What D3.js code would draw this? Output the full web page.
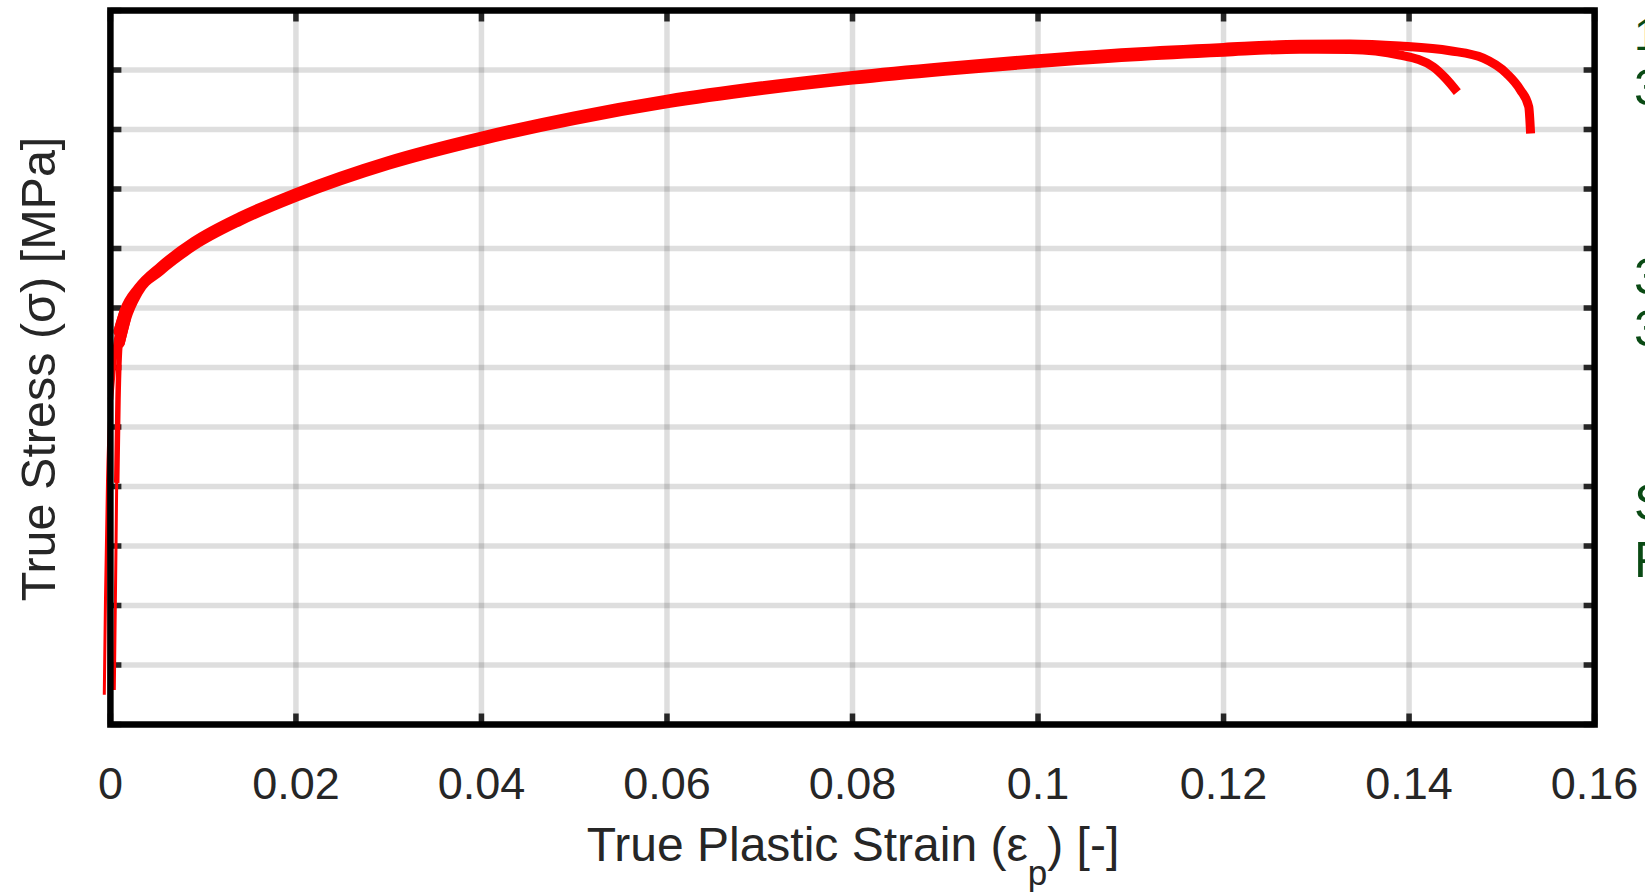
<!DOCTYPE html>
<html>
<head>
<meta charset="utf-8">
<script src="https://cdn.jsdelivr.net/npm/d3@7"></script>
<style>
  html, body { margin: 0; padding: 0; background: #ffffff; }
  svg { display: block; }
  text { font-family: "Liberation Sans", Arial, sans-serif; }
</style>
</head>
<body>
<svg id="chart" width="1645" height="894"></svg>
<script>
// Axis ticks
const xTicks = [0, 0.02, 0.04, 0.06, 0.08, 0.1, 0.12, 0.14, 0.16];
const xTickLabels = ["0", "0.02", "0.04", "0.06", "0.08", "0.1", "0.12", "0.14", "0.16"];
const yTicks = [0, 50, 100, 150, 200, 250, 300, 350, 400, 450, 500, 550, 600];

// Specimen A: true plastic strain [-] and true stress [MPa]
const strainA = [-0.00066, -0.00053, -0.00031, 0.00001, 0.00039, 0.00080, 0.00150, 0.00300, 0.00540,
  0.0090, 0.0140, 0.02, 0.03, 0.04, 0.05, 0.06, 0.07, 0.08, 0.09, 0.10,
  0.11, 0.12, 0.1282, 0.1336, 0.1390, 0.1444, 0.1480, 0.1505, 0.1520, 0.1529, 0.1531];
const stressA = [25, 105, 205, 273, 306, 330, 348, 367, 385,
  406, 427, 447, 474, 494.5, 511.5, 525.5, 536.5, 545.5, 553, 559.5,
  565, 569, 571.6, 571.8, 570.1, 566.2, 560.0, 547.2, 533.2, 519.1, 496.6];

// Specimen B
const strainB = [0.00042, 0.00060, 0.00068, 0.00082, 0.00105, 0.00170, 0.00300, 0.00540,
  0.0090, 0.0140, 0.02, 0.03, 0.04, 0.05, 0.06, 0.07, 0.08, 0.09, 0.10,
  0.11, 0.12, 0.1282, 0.1336, 0.1390, 0.1426, 0.1439, 0.1452];
const stressB = [29, 147, 203, 273, 320, 340, 363, 381,
  402, 423, 443, 470, 490.5, 507.5, 521.5, 532.5, 541.5, 549, 555.5,
  561, 565, 567.5, 567.2, 562.6, 552.6, 543.3, 531.4];

// Side annotation lines
const noteLines = ["1", "3", "3", "3", "S", "F"];
const noteBaselines = [50, 105, 294, 346, 520, 577];
const noteSizes = [44, 50, 50, 50, 50, 50];

const svg = d3.select("#chart");
const plot = { left: 110.4, right: 1594.6, top: 10.5, bottom: 724.5 };

const x = d3.scaleLinear().domain([0, 0.16]).range([plot.left, plot.right]);
const y = d3.scaleLinear().domain([0, 600]).range([plot.bottom, plot.top]);

svg.append("rect").attr("width", 1645).attr("height", 894).attr("fill", "#ffffff");

// Grid
const grid = svg.append("g").attr("stroke", "rgba(0,0,0,0.13)").attr("stroke-width", 5.5);
grid.selectAll("line.gx").data(xTicks.slice(1, -1)).join("line")
  .attr("x1", d => x(d)).attr("x2", d => x(d))
  .attr("y1", plot.top).attr("y2", plot.bottom);
grid.selectAll("line.gy").data(yTicks.slice(1, -1)).join("line")
  .attr("y1", d => y(d)).attr("y2", d => y(d))
  .attr("x1", plot.left).attr("x2", plot.right);

// Inward tick marks on all four sides
const tickLen = 11;
const ticks = svg.append("g").attr("stroke", "#262626").attr("stroke-width", 5.5);
ticks.selectAll("line.tl").data(yTicks).join("line")
  .attr("x1", plot.left).attr("x2", plot.left + tickLen)
  .attr("y1", d => y(d)).attr("y2", d => y(d));
ticks.selectAll("line.tr").data(yTicks).join("line")
  .attr("x1", plot.right - tickLen).attr("x2", plot.right)
  .attr("y1", d => y(d)).attr("y2", d => y(d));
ticks.selectAll("line.tb").data(xTicks).join("line")
  .attr("x1", d => x(d)).attr("x2", d => x(d))
  .attr("y1", plot.bottom - tickLen).attr("y2", plot.bottom);
ticks.selectAll("line.tt").data(xTicks).join("line")
  .attr("x1", d => x(d)).attr("x2", d => x(d))
  .attr("y1", plot.top).attr("y2", plot.top + tickLen);

// Stress-strain curves: thin elastic rise widening into the thick plastic branch
const line = d3.line().x(d => x(d[0])).y(d => y(d[1])).curve(d3.curveMonotoneX);
const specimens = [
  { strain: strainA, stress: stressA, mid: 3, knee: 5 },
  { strain: strainB, stress: stressB, mid: 2, knee: 4 }
];
const curves = svg.append("g").attr("fill", "none").attr("stroke", "#ff0000");
specimens.forEach(s => {
  const pts = s.strain.map((e, i) => [e, s.stress[i]]);
  curves.append("path").attr("d", line(pts.slice(0, s.knee + 2))).attr("stroke-width", 3);
  curves.append("path").attr("d", line(pts.slice(s.mid, s.knee + 2))).attr("stroke-width", 5.5);
  curves.append("path").attr("d", line(pts.slice(s.knee))).attr("stroke-width", 9);
  // rounded start of the plastic branch so the widening has no step
  curves.append("path").attr("d", line(pts.slice(s.knee, s.knee + 2)))
    .attr("stroke-width", 9).attr("stroke-linecap", "round");
});

// Frame
svg.append("rect")
  .attr("x", plot.left).attr("y", plot.top)
  .attr("width", plot.right - plot.left).attr("height", plot.bottom - plot.top)
  .attr("fill", "none").attr("stroke", "#000000").attr("stroke-width", 6.5);

// X tick labels
svg.append("g").selectAll("text").data(xTicks).join("text")
  .attr("x", d => x(d)).attr("y", 799)
  .attr("text-anchor", "middle").attr("font-size", 45).attr("fill", "#262626")
  .text((d, i) => xTickLabels[i]);

// Axis titles
const xt = svg.append("text")
  .attr("x", 853).attr("y", 861)
  .attr("text-anchor", "middle").attr("font-size", 48).attr("fill", "#262626");
xt.append("tspan").text("True Plastic Strain (ε");
xt.append("tspan").attr("font-size", 35).attr("dy", 24).text("p");
xt.append("tspan").attr("dy", -24).text(") [-]");

svg.append("text")
  .attr("transform", "translate(55,369) rotate(-90)")
  .attr("text-anchor", "middle").attr("font-size", 48.5).attr("fill", "#262626")
  .text("True Stress (σ) [MPa]");

// Side annotation, running past the right edge
svg.append("g").selectAll("text").data(noteLines).join("text")
  .attr("x", 1634).attr("y", (d, i) => noteBaselines[i])
  .attr("font-size", (d, i) => noteSizes[i]).attr("fill", "#0a4a14")
  .text(d => d);
</script>
</body>
</html>
